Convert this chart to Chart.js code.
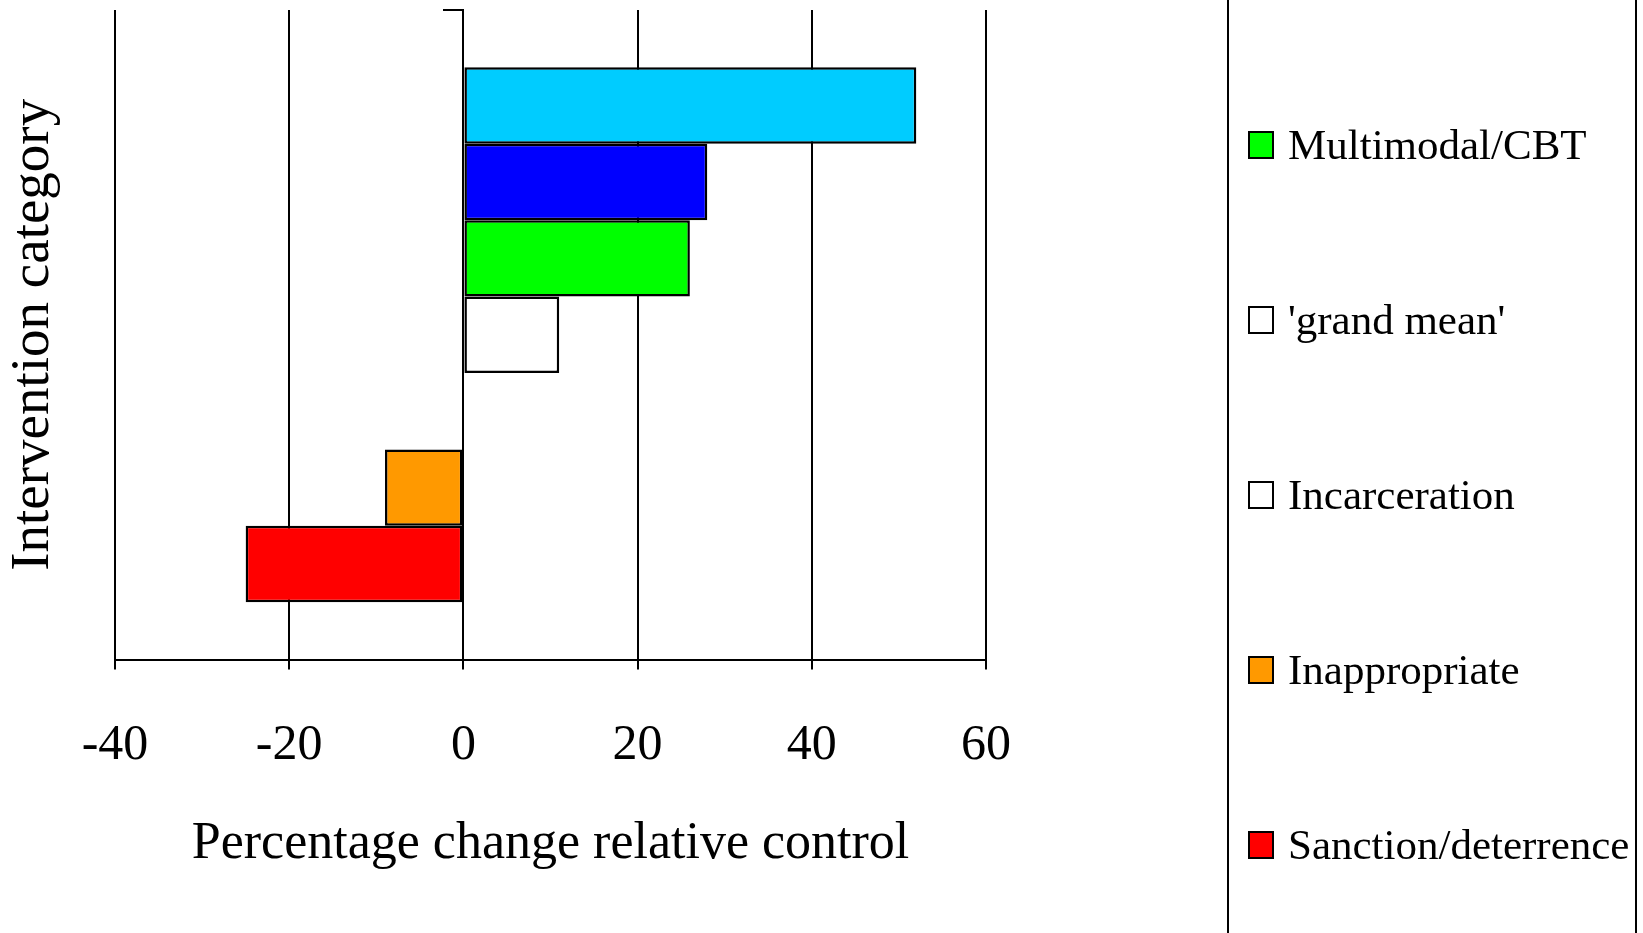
<!DOCTYPE html>
<html>
<head>
<meta charset="utf-8">
<title>Percentage change relative control</title>
<script src="https://cdn.jsdelivr.net/npm/chart.js@4.4.1/dist/chart.umd.min.js"></script>
<style>
  html, body { margin: 0; padding: 0; background: #fff; overflow: hidden; }
  #wrap { position: relative; width: 1643px; height: 933px; }
  #chart { position: absolute; left: 0; top: 0; }
  #legendBox {
    position: absolute; left: 1227px; top: -20px; width: 410px; height: 980px;
    border: 2px solid #000; box-sizing: border-box;
  }
  #legend {
    position: absolute; left: 1248px; top: 57px;
    font-family: "Liberation Serif", "Times New Roman", serif; font-size: 43px; color: #000;
  }
  .item { height: 175px; display: flex; align-items: center; }
  .swatch { width: 26px; height: 28px; border: 2px solid #000; box-sizing: border-box; margin-right: 14px; }
</style>
</head>
<body>
<div id="wrap">
  <canvas id="chart" width="1643" height="933"></canvas>
  <div id="legendBox"></div>
  <div id="legend"></div>
</div>
<script>
// one category, one bar per intervention type (top to bottom as drawn)
const categories = [''];
// the first two series sit above the visible part of the legend, so their names are not shown
const seriesLabels = ['', '', 'Multimodal/CBT', "'grand mean'", 'Incarceration', 'Inappropriate', 'Sanction/deterrence'];
const seriesValues = [52, 28, 26, 11, 0, -9, -25];
const seriesColors = ['#00CCFF', '#0000FF', '#00FF00', '#FFFFFF', '#FFFFFF', '#FF9900', '#FF0000'];
const xTicks = [-40, -20, 0, 20, 40, 60];

const serif = '"Liberation Serif", "Times New Roman", serif';

const datasets = seriesLabels.map((lbl, i) => ({
    label: lbl,
    data: [seriesValues[i]],
    backgroundColor: seriesColors[i],
    borderColor: '#000',
    borderWidth: 2.5,
    borderSkipped: false,
    categoryPercentage: 0.8235,
    barPercentage: 1.0
}));

new Chart(document.getElementById('chart'), {
    type: 'bar',
    data: { labels: categories, datasets: datasets },
    options: {
        indexAxis: 'y',
        responsive: false,
        animation: false,
        layout: { padding: { left: 0, right: 657, top: 10, bottom: 0 } },
        plugins: { legend: { display: false }, tooltip: { enabled: false } },
        scales: {
            x: {
                min: xTicks[0],
                max: xTicks[xTicks.length - 1],
                ticks: {
                    stepSize: xTicks[1] - xTicks[0],
                    color: '#000',
                    padding: 51,
                    font: { family: serif, size: 50, lineHeight: 1.0 }
                },
                grid: { color: '#000', lineWidth: 2, tickLength: 10 },
                border: { display: true, color: '#000', width: 2 },
                title: {
                    display: true,
                    text: 'Percentage change relative control',
                    color: '#000',
                    font: { family: serif, size: 52 },
                    padding: { top: -8, bottom: 57 }
                }
            },
            y: {
                ticks: { display: false },
                grid: { display: false, drawTicks: false },
                border: { display: false },
                title: {
                    display: true,
                    text: 'Intervention category',
                    color: '#000',
                    font: { family: serif, size: 55 },
                    padding: { top: 1, bottom: 48 }
                }
            },
            // axis line at zero with its little outward ticks, like the original
            yz: {
                type: 'category',
                axis: 'y',
                position: { x: 0 },
                offset: true,
                ticks: { display: false },
                grid: { offset: true, drawOnChartArea: false, color: '#000', lineWidth: 2, tickLength: 19 },
                border: { display: true, color: '#000', width: 2 }
            }
        }
    }
});

// legend (only the part that shows in the picture)
const legend = document.getElementById('legend');
seriesLabels.forEach((lbl, i) => {
    if (!lbl) return;
    const row = document.createElement('div');
    row.className = 'item';
    const sw = document.createElement('div');
    sw.className = 'swatch';
    sw.style.background = seriesColors[i];
    const txt = document.createElement('span');
    txt.textContent = lbl;
    row.appendChild(sw);
    row.appendChild(txt);
    legend.appendChild(row);
});
</script>
</body>
</html>
